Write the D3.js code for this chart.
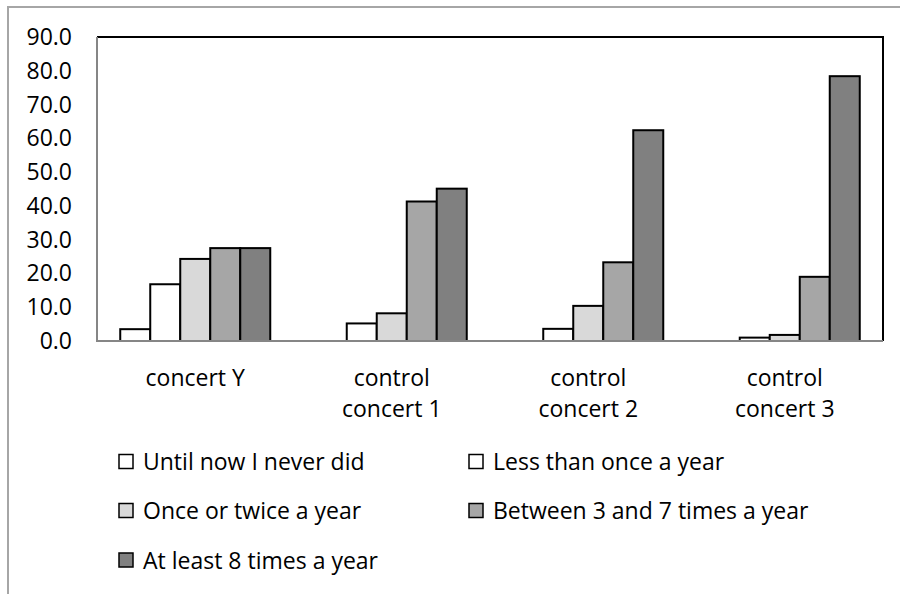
<!DOCTYPE html>
<html><head><meta charset="utf-8">
<script src="https://cdn.jsdelivr.net/npm/d3@7"></script>
<style>body{margin:0;background:#fff}svg{display:block}text{font-family:"Open Sans",sans-serif;fill:#000}</style>
</head><body><svg id="c" width="900" height="594"></svg>
<script>
const categories = [["concert Y"], ["control", "concert 1"], ["control", "concert 2"], ["control", "concert 3"]];
const seriesNames = ["Until now I never did", "Less than once a year", "Once or twice a year", "Between 3 and 7 times a year", "At least 8 times a year"];
const seriesColors = ["#ffffff", "#ffffff", "#d9d9d9", "#a6a6a6", "#808080"];
const neverDid = [3.5, 0, 0, 0];
const lessThanOnce = [16.8, 5.2, 3.6, 1.0];
const onceOrTwice = [24.3, 8.2, 10.4, 1.8];
const between3and7 = [27.5, 41.3, 23.3, 19.0];
const atLeast8 = [27.5, 45.1, 62.4, 78.4];
const yTicks = [0, 10, 20, 30, 40, 50, 60, 70, 80, 90];

const series = [neverDid, lessThanOnce, onceOrTwice, between3and7, atLeast8];
const svg = d3.select("#c");
const L = 97, R = 883, T = 37, B = 341;
const FS = "23px";

// outer frame
svg.append("rect").attr("x", 8).attr("y", 7).attr("width", 1000).attr("height", 1000)
  .attr("fill", "none").attr("stroke", "#a6a6a6").attr("stroke-width", 2);

const x0 = d3.scaleBand().domain(d3.range(categories.length)).range([L, R])
  .paddingInner(0.2366).paddingOuter(0.1183);
const x1 = d3.scaleBand().domain(d3.range(series.length)).range([0, x0.bandwidth()]);
const y = d3.scaleLinear().domain([0, 90]).range([B, T]);

// plot frame top/right
svg.append("path").attr("d", `M${L},${T}H${R}V${B}`).attr("fill", "none")
  .attr("stroke", "#000").attr("stroke-width", 2);

// bars
const g = svg.append("g");
series.forEach((vals, si) => {
  g.selectAll(null).data(vals.map((v, ci) => ({v, ci})).filter(d => d.v > 0)).enter()
    .append("rect")
    .attr("x", d => x0(d.ci) + x1(si))
    .attr("y", d => y(d.v))
    .attr("width", x1.bandwidth())
    .attr("height", d => B - y(d.v))
    .attr("fill", seriesColors[si])
    .attr("stroke", "#000").attr("stroke-width", 2);
});

// axes lines
svg.append("path").attr("d", `M${L},${T}V${B}H${R}`).attr("fill", "none")
  .attr("stroke", "#868686").attr("stroke-width", 2);

// y labels
svg.selectAll(".yt").data(yTicks).enter().append("text")
  .attr("x", 72).attr("y", d => y(d)).attr("dy", "0.35em")
  .attr("text-anchor", "end").style("font-size", FS)
  .text(d => d.toFixed(1));

// category labels
categories.forEach((lines, ci) => {
  const cx = x0(ci) + x0.bandwidth() / 2;
  lines.forEach((ln, li) => {
    svg.append("text").attr("x", cx).attr("y", 386 + li * 31)
      .attr("text-anchor", "middle").style("font-size", FS).text(ln);
  });
});

// legend
const legPos = [[119, 462], [469, 462], [119, 511], [469, 511], [119, 560.5]];
seriesNames.forEach((name, i) => {
  const [lx, ly] = legPos[i];
  svg.append("rect").attr("x", lx).attr("y", ly - 7.5).attr("width", 14).attr("height", 14)
    .attr("fill", seriesColors[i]).attr("stroke", "#000").attr("stroke-width", 1.5);
  svg.append("text").attr("x", lx + 24).attr("y", ly).attr("dy", "0.35em")
    .style("font-size", FS).text(name);
});
</script></body></html>
